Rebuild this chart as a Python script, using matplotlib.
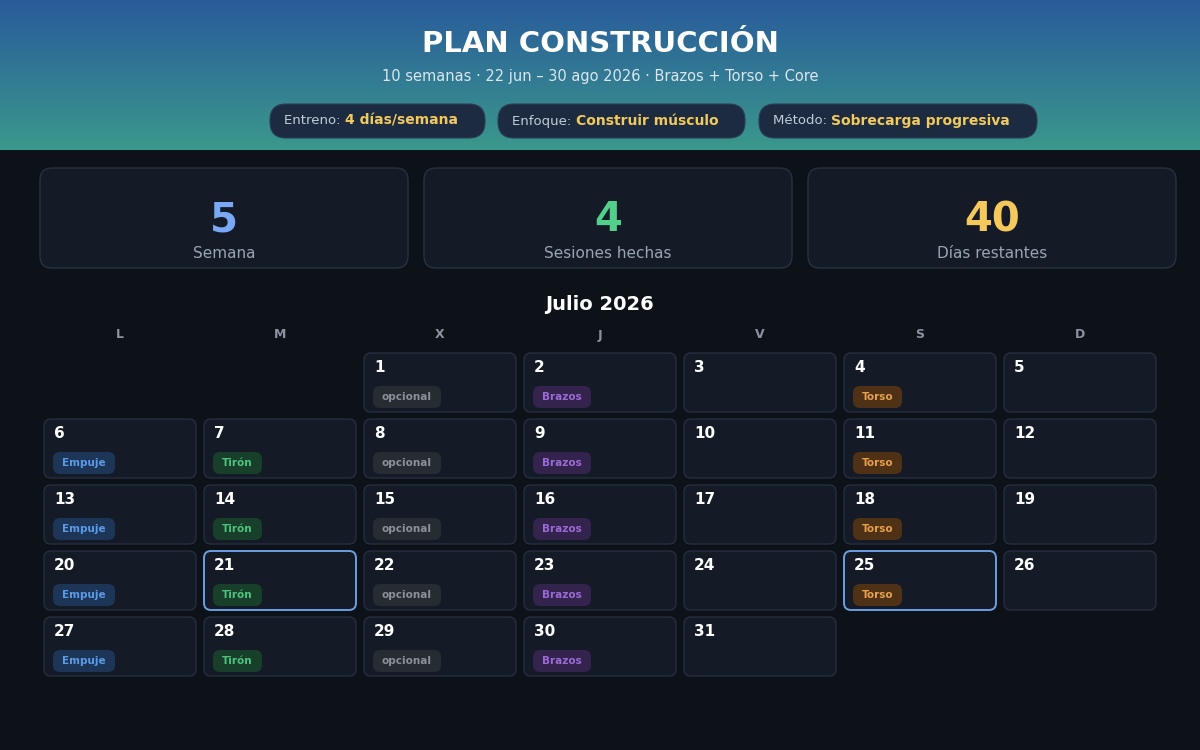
import matplotlib
matplotlib.use("Agg")
import matplotlib.pyplot as plt
from matplotlib.patches import FancyBboxPatch, Rectangle
import numpy as np

title = "PLAN CONSTRUCCIÓN"
subtitle = "10 semanas · 22 jun – 30 ago 2026 · Brazos + Torso + Core"
pill_labels = ["Entreno:", "Enfoque:", "Método:"]
pill_values = ["4 días/semana", "Construir músculo", "Sobrecarga progresiva"]
stat_values = ["5", "4", "40"]
stat_labels = ["Semana", "Sesiones hechas", "Días restantes"]
month_title = "Julio 2026"
weekdays = ["L", "M", "X", "J", "V", "S", "D"]
first_weekday = 2  # July 1 2026 is Wednesday
days = list(range(1, 32))
day_tags = {1: "opcional", 2: "Brazos", 4: "Torso",
            6: "Empuje", 7: "Tirón", 8: "opcional", 9: "Brazos", 11: "Torso",
            13: "Empuje", 14: "Tirón", 15: "opcional", 16: "Brazos", 18: "Torso",
            20: "Empuje", 21: "Tirón", 22: "opcional", 23: "Brazos", 25: "Torso",
            27: "Empuje", 28: "Tirón", 29: "opcional", 30: "Brazos"}
highlight_days = [21, 25]

tag_style = {"Empuje": ("#1d3557", "#5b9be6", 62),
             "Tirón": ("#173f2a", "#4fc27f", 49),
             "opcional": ("#272b32", "#8b9099", 68),
             "Brazos": ("#33234d", "#9a6bd6", 58),
             "Torso": ("#4f3216", "#e6a04e", 49)}

fig = plt.figure(figsize=(12, 7.5), dpi=100)
fig.patch.set_facecolor("#0d1118")
ax = fig.add_axes([0, 0, 1, 1])
ax.set_xlim(0, 1200); ax.set_ylim(750, 0); ax.axis("off")

# header gradient
grad = np.linspace(0, 1, 150)[:, None]
c1 = np.array([0x29, 0x5b, 0x9b]) / 255; c2 = np.array([0x3b, 0x98, 0x8c]) / 255
img = c1[None, None, :] * (1 - grad[..., None]) + c2[None, None, :] * grad[..., None]
img = np.repeat(img, 2, axis=1)
ax.imshow(img, extent=[0, 1200, 150, 0], aspect="auto", zorder=0)

ax.text(600, 44, title, ha="center", va="center", color="white", fontsize=21, fontweight="bold")
ax.text(600, 77, subtitle, ha="center", va="center", color="#dbe6f0", fontsize=10.5)

pill_x = [(270, 485), (498, 745), (759, 1037)]
fig.canvas.draw()
r = fig.canvas.get_renderer()
for (x0, x1), lab, val in zip(pill_x, pill_labels, pill_values):
    ax.add_patch(FancyBboxPatch((x0 + 17, 104), x1 - x0 - 34, 34, boxstyle="round,pad=0,rounding_size=17",
                                mutation_aspect=1, fc="#1c2b40", ec="#2b3e55", lw=0.8, zorder=2))
    t = ax.text(x0 + 14, 121, lab + " ", ha="left", va="center", color="#c3ccd8", fontsize=9.5, zorder=3)
    w = t.get_window_extent(r).width
    ax.text(x0 + 14 + w, 121, val, ha="left", va="center", color="#f2c95c", fontsize=10,
            fontweight="bold", zorder=3)
# pill patches drawn as FancyBbox with pad trick: redo properly
for p in list(ax.patches):
    p.remove()
for (x0, x1) in pill_x:
    ax.add_patch(FancyBboxPatch((x0, 104), x1 - x0, 34, boxstyle="round,pad=0,rounding_size=16",
                                fc="#1c2b40", ec="#2b3e55", lw=0.8, zorder=2))

stat_colors = ["#79a8f6", "#52cf8b", "#f5c85c"]
for i, (v, l, c) in enumerate(zip(stat_values, stat_labels, stat_colors)):
    x0 = 40 + i * 384
    ax.add_patch(FancyBboxPatch((x0, 168), 368, 100, boxstyle="round,pad=0,rounding_size=12",
                                fc="#141b27", ec="#28313f", lw=1))
    ax.text(x0 + 184, 220, v, ha="center", va="center", color=c, fontsize=29, fontweight="bold")
    ax.text(x0 + 184, 253, l, ha="center", va="center", color="#9aa5b3", fontsize=11)

ax.text(600, 304, month_title, ha="center", va="center", color="white", fontsize=14, fontweight="bold")
for i, wd in enumerate(weekdays):
    ax.text(120 + i * 160, 335, wd, ha="center", va="center", color="#8a93a0", fontsize=9, fontweight="bold")

for d in days:
    pos = first_weekday + d - 1
    col, row = pos % 7, pos // 7
    x0 = 44 + col * 160; y0 = 353 + row * 66
    hl = d in highlight_days
    ax.add_patch(FancyBboxPatch((x0, y0), 152, 59, boxstyle="round,pad=0,rounding_size=7",
                                fc="#141a26", ec="#6a9fe3" if hl else "#283142", lw=1.4 if hl else 0.9))
    ax.text(x0 + 10, y0 + 14, str(d), ha="left", va="center", color="white", fontsize=11, fontweight="bold")
    if d in day_tags:
        tg = day_tags[d]; bg, fc, w = tag_style[tg]
        ax.add_patch(FancyBboxPatch((x0 + 9, y0 + 33), w, 22, boxstyle="round,pad=0,rounding_size=7",
                                    fc=bg, ec="none"))
        ax.text(x0 + 9 + w / 2, y0 + 44, tg, ha="center", va="center", color=fc, fontsize=7.5, fontweight="bold")

fig.savefig("out.png", dpi=100, facecolor=fig.get_facecolor())
